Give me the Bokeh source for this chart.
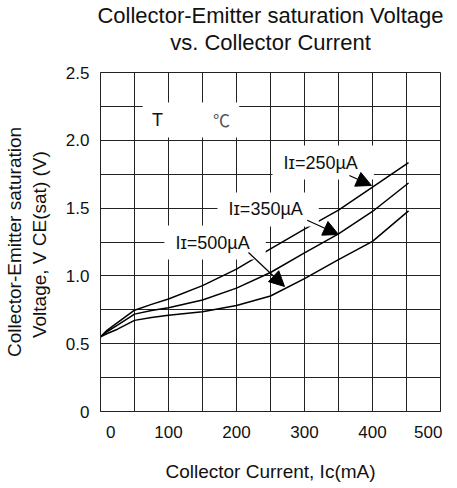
from bokeh.plotting import figure
from bokeh.models import (Range1d, FixedTicker, Label, Arrow, NormalHead,
                          BoxAnnotation, Title)
from bokeh.embed import file_html
from bokeh.resources import INLINE

# ---- data ----
ic_ma = [0, 10, 25, 50, 75, 100, 150, 200, 250, 300, 350, 400, 453]
vce_250 = [0.55, 0.60, 0.655, 0.747, 0.79, 0.83, 0.928, 1.05, 1.20, 1.345, 1.485, 1.655, 1.835]
vce_350 = [0.55, 0.59, 0.637, 0.718, 0.745, 0.765, 0.822, 0.91, 1.025, 1.17, 1.31, 1.475, 1.685]
vce_500 = [0.55, 0.575, 0.607, 0.672, 0.693, 0.71, 0.736, 0.782, 0.852, 0.98, 1.12, 1.255, 1.48]
grid_x = [0, 100, 200, 300, 400, 500]
grid_x_minor = [50, 150, 250, 350, 450]
x_label_pos = [15, 100, 200, 300, 400, 482]      # where the reference prints the labels
x_label_text = ["0", "100", "200", "300", "400", "500"]
y_ticks = [0, 0.5, 1.0, 1.5, 2.0, 2.5]
y_minor = [0.25, 0.75, 1.25, 1.75, 2.25]
y_label_text = ["0", "0.5", "1.0", "1.5", "2.0", "2.5"]
series_labels = ["Iɪ=250µA", "Iɪ=350µA", "Iɪ=500µA"]
title_lines = ["Collector-Emitter saturation Voltage", "vs. Collector Current"]

FONT = "Liberation Sans"

p = figure(frame_width=340, frame_height=339, output_backend="svg", toolbar_location=None,
           x_range=Range1d(0, 500), y_range=Range1d(0, 2.5),
           min_border_left=93, min_border_right=8, min_border_top=0,
           min_border_bottom=0)

p.title = None
spacer = Title(text=" ", text_font_size="1px", standoff=15)
t_low = Title(text=title_lines[1], align="center", text_font=FONT,
              text_font_size="22px", text_font_style="normal", text_color="#111111",
              standoff=0)
t_high = Title(text=title_lines[0], align="center", text_font=FONT,
               text_font_size="22px", text_font_style="normal", text_color="#111111",
               standoff=0)
p.add_layout(spacer, "above")
p.add_layout(t_low, "above")
p.add_layout(t_high, "above")

p.outline_line_color = "#222222"
p.outline_line_width = 1

p.xaxis.ticker = FixedTicker(ticks=x_label_pos)
p.xaxis.major_label_overrides = dict(zip(x_label_pos, x_label_text))
p.yaxis.ticker = FixedTicker(ticks=y_ticks, minor_ticks=y_minor)
p.yaxis.major_label_overrides = dict(zip(y_ticks, y_label_text))
p.xgrid.ticker = FixedTicker(ticks=grid_x, minor_ticks=grid_x_minor)

for ax in (p.xaxis[0], p.yaxis[0]):
    ax.axis_line_color = "#222222"
    ax.major_tick_line_color = None
    ax.minor_tick_line_color = None
    ax.major_label_text_font = FONT
    ax.major_label_text_font_size = "17px"
    ax.major_label_text_color = "#111111"
    ax.axis_label_text_font = FONT
    ax.axis_label_text_font_size = "19px"
    ax.axis_label_text_font_style = "normal"
    ax.axis_label_text_color = "#111111"

p.xaxis.axis_label = "Collector Current, Ic(mA)"
p.xaxis.major_label_standoff = 8
p.xaxis.axis_label_standoff = 20
p.yaxis.axis_label = "Collector-Emitter saturation\nVoltage, V CE(sat)  (V)"
p.yaxis.major_label_standoff = 5
p.yaxis.axis_label_standoff = 13

for g in (p.xgrid[0], p.ygrid[0]):
    g.grid_line_color = "#222222"
    g.grid_line_width = 1
    g.minor_grid_line_color = "#222222"
    g.minor_grid_line_width = 1

for vals in (vce_250, vce_350, vce_500):
    p.line(ic_ma, vals, line_color="black", line_width=1.5)

# "T  ℃" box
p.add_layout(BoxAnnotation(left=62, right=204, bottom=2.021, top=2.279,
                           fill_color="white", fill_alpha=1, line_color=None))
p.add_layout(Label(x=84, y=2.153, text="T", text_font=FONT, text_font_size="18px",
                   text_align="center", text_baseline="middle", text_color="#111111"))
p.add_layout(Label(x=178, y=2.153, text="℃", text_font="Noto Sans CJK SC",
                   text_font_size="17px", text_align="center", text_baseline="middle",
                   text_color="#555555"))

# curve labels
label_pos = [(253, 1.836), (172, 1.49), (94, 1.246)]
for (lx, ly), txt in zip(label_pos, series_labels):
    p.add_layout(Label(x=lx, y=ly, text=txt, text_font=FONT, text_font_size="18px",
                       text_align="left", text_baseline="middle", text_color="#111111",
                       background_fill_color="white", background_fill_alpha=1,
                       padding=dict(left=11, right=16, top=7, bottom=7)))

arrows = [((366, 1.74), (398.5, 1.667)),
          ((304, 1.41), (350, 1.305)),
          ((217.6, 1.173), (270.6, 0.922))]
for (xs, ys), (xe, ye) in arrows:
    p.add_layout(Arrow(x_start=xs, y_start=ys, x_end=xe, y_end=ye,
                       line_color="black", line_width=1.2,
                       end=NormalHead(size=15, fill_color="black", line_color="black")))

open("out.html", "w").write(file_html(p, INLINE))
